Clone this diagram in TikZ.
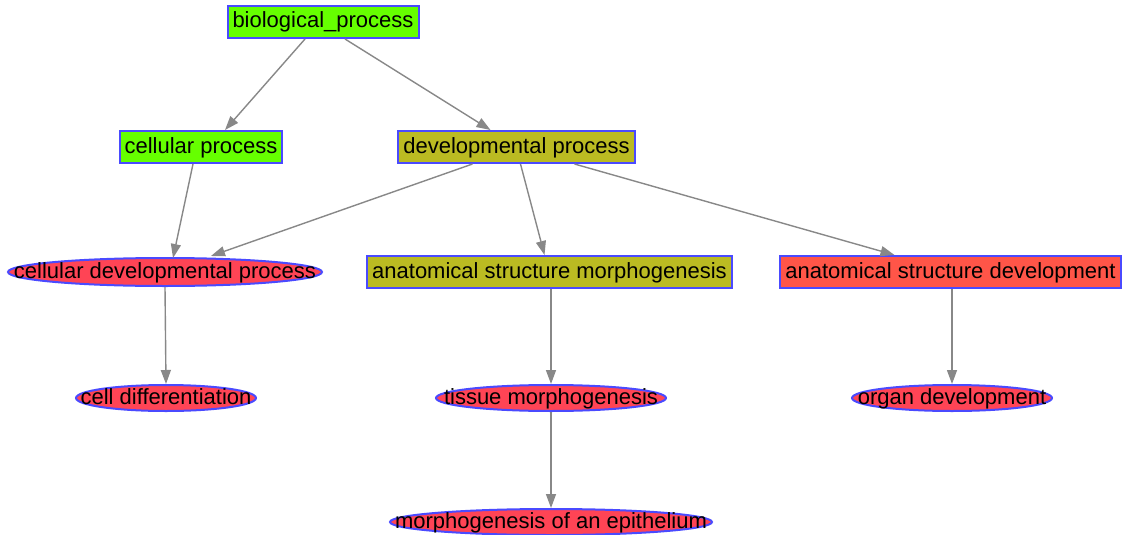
\documentclass[tikz,border=0pt]{standalone}
\usepackage{fontspec}
\setmainfont{Liberation Sans}
\usetikzlibrary{arrows.meta,shapes.geometric}
\definecolor{gogreen}{HTML}{66FF00}
\definecolor{goolive}{HTML}{BBBB22}
\definecolor{gored}{HTML}{FF5548}
\definecolor{gopink}{HTML}{FF4455}
\definecolor{goblue}{HTML}{4A4AFF}
\definecolor{goedge}{HTML}{888888}
\begin{document}
\begin{tikzpicture}[x=1pt,y=-1pt,
  font=\fontsize{22}{26}\selectfont,
  boxnode/.style={draw=goblue, line width=2pt, rectangle, minimum height=32pt, inner xsep=5pt, inner ysep=0pt, text height=16pt, text depth=4pt},
  ovalnode/.style={draw=goblue, line width=2pt, ellipse, fill=gopink, minimum height=28pt, inner sep=0pt},
  labelnode/.style={inner sep=0pt, text height=16pt, text depth=4pt},
  edge/.style={draw=goedge, line width=1.4pt, -{Triangle[length=14pt,width=10pt]}}]
\useasboundingbox (0,0) rectangle (1124,535);
% rectangle nodes
\node[boxnode, fill=gogreen] (bp) at (323,22) {biological\_process};
\node[boxnode, fill=gogreen] (cp) at (201,147) {cellular process};
\node[boxnode, fill=goolive] (dp) at (516.5,147) {developmental process};
\node[boxnode, fill=goolive] (asm) at (549.5,272) {anatomical structure morphogenesis};
\node[boxnode, fill=gored] (asd) at (950.5,272) {anatomical structure development};
% ellipse nodes
\node[ovalnode, minimum width=314pt] (cdp) at (165,272) {};
\node[labelnode] (cdpT) at (cdp) {cellular developmental process};
\node[ovalnode, minimum width=180pt, minimum height=26pt] (cd) at (166,398) {};
\node[labelnode] (cdT) at (cd) {cell differentiation};
\node[ovalnode, minimum width=230pt, minimum height=26pt] (tm) at (551,398) {};
\node[labelnode] (tmT) at (tm) {tissue morphogenesis};
\node[ovalnode, minimum width=200pt, minimum height=26pt] (od) at (952,398) {};
\node[labelnode] (odT) at (od) {organ development};
\node[ovalnode, minimum width=322pt, minimum height=26pt] (me) at (551,522) {};
\node[labelnode] (meT) at (me) {morphogenesis of an epithelium};
% edges
\draw[edge] ([xshift=-18pt]bp.south) -- ([xshift=24pt]cp.north);
\draw[edge] ([xshift=22pt]bp.south) -- ([xshift=-26pt]dp.north);
\draw[edge] ([xshift=-8pt]cp.south) -- ([xshift=8pt,yshift=-1pt]cdp.north);
\draw[edge] ([xshift=-44pt]dp.south) -- ([xshift=46pt,yshift=1pt]cdp.north);
\draw[edge] ([xshift=4pt]dp.south) -- ([xshift=-5pt]asm.north);
\draw[edge] ([xshift=58pt]dp.south) -- ([xshift=-56pt]asd.north);
\draw[edge] (cdp.south) -- (cd.north);
\draw[edge] ([xshift=1.5pt]asm.south) -- (tm.north);
\draw[edge] ([xshift=1.5pt]asd.south) -- (od.north);
\draw[edge] (tm.south) -- (me.north);
\end{tikzpicture}
\end{document}
